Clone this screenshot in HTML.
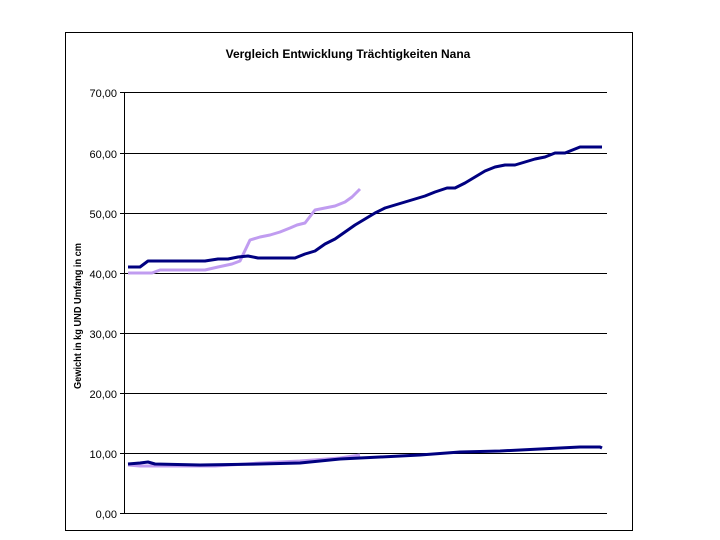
<!DOCTYPE html>
<html><head><meta charset="utf-8"><style>
html,body{margin:0;padding:0;background:#fff;}
svg{display:block;}
text{font-family:"Liberation Sans",Arial,sans-serif;}
</style></head><body>
<svg width="720" height="540" viewBox="0 0 720 540">
<rect x="65.5" y="32.5" width="567" height="498" fill="#fff" stroke="#000" stroke-width="1"/>
<text x="348" y="58" font-size="12" font-weight="bold" text-anchor="middle">Vergleich Entwicklung Trächtigkeiten Nana</text>
<g stroke="#000" stroke-width="1">
<line x1="120" y1="92.5" x2="607" y2="92.5"/>
<line x1="120" y1="153.5" x2="607" y2="153.5"/>
<line x1="120" y1="213.5" x2="607" y2="213.5"/>
<line x1="120" y1="273.5" x2="607" y2="273.5"/>
<line x1="120" y1="333.5" x2="607" y2="333.5"/>
<line x1="120" y1="393.5" x2="607" y2="393.5"/>
<line x1="120" y1="453.5" x2="607" y2="453.5"/>
<line x1="120" y1="513.5" x2="607" y2="513.5"/>
<line x1="124.5" y1="92" x2="124.5" y2="514"/>
</g>
<g font-size="11" text-anchor="end">
<text x="117" y="97">70,00</text>
<text x="117" y="158">60,00</text>
<text x="117" y="218">50,00</text>
<text x="117" y="278">40,00</text>
<text x="117" y="338">30,00</text>
<text x="117" y="398">20,00</text>
<text x="117" y="458">10,00</text>
<text x="117" y="518">0,00</text>
</g>
<text transform="translate(81,316) rotate(-90)" font-size="10" font-weight="bold" text-anchor="middle" textLength="146" lengthAdjust="spacingAndGlyphs">Gewicht in kg UND Umfang in cm</text>
<g fill="none" stroke-width="3" stroke-linejoin="round">
<polyline stroke="#c09cf0" points="128,273 152,273 160,270 205,270 218,267 232,264 240,261 250,240 260,237 270,235 280,232 290,228 297,225 305,223 315,210 325,208 335,206 345,202 352,197 360,189"/>
<polyline stroke="#000080" points="128,267 140,267 148,261 160,261 205,261 218,259 228,259 238,257 248,256 258,258 270,258 295,258 305,254 315,251 325,244 335,239 345,232 355,225 365,219 375,213 385,208 395,205 405,202 415,199 425,196 435,192 447,188 455,188 465,183 475,177 485,171 495,167 505,165 515,165 525,162 535,159 545,157 555,153 565,153 580,147 602,147"/>
<polyline stroke="#c09cf0" points="128,465 140,466 215,466 260,463 300,461 340,458 360,455"/>
<polyline stroke="#000080" points="128,464 140,463 148,462 155,464 200,465 260,464 300,463 340,459 380,457 420,455 460,452 500,451 540,449 580,447 600,447 602,448"/>
</g>
</svg>
</body></html>
